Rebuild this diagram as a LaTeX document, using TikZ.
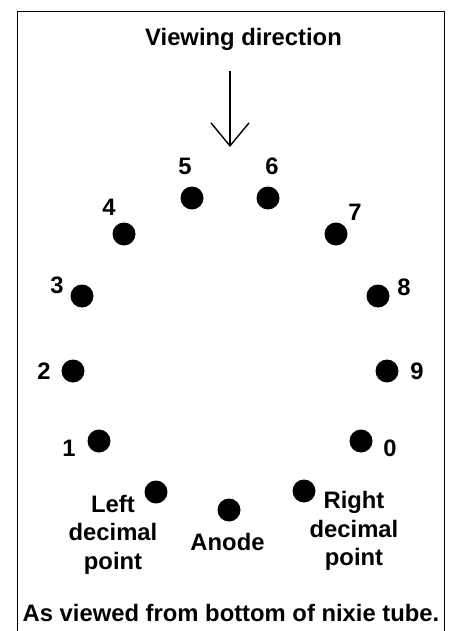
\documentclass[tikz,border=0pt]{standalone}
\usepackage{fontspec}
\setmainfont{Liberation Sans}
\usetikzlibrary{arrows.meta}
\tikzset{pin/.style={circle, fill=black, inner sep=0pt, minimum width=22pt, minimum height=23pt},
    lbl/.style={font=\fontsize{23.8}{28.5}\selectfont\bfseries, inner sep=0pt, align=center}}

\begin{document}
\begin{tikzpicture}[x=1pt, y=-1pt]
    \useasboundingbox (0,0) rectangle (450,631);
    \draw[thick] (17,11.5) -- (444.5,11.5) (17.5,11) -- (17.5,631) (444.5,11) -- (444.5,631);
    \node[lbl] (title) at (243.5,39) {Viewing direction};
    % arrow
    \coordinate (top) at (230,71);
    \coordinate (tip) at (230,147);
    \draw[line width=1.4pt, -{Straight Barb[length=23pt, width=38pt, line width=1.4pt]}] (top) -- (tip);
    % pins
    \foreach \name/\x/\y in {five/192/198, six/268/198, four/124/234, seven/336/234,
        three/82/296, eight/378/296, two/73/371, nine/387/371, one/99/441, zero/361/441,
        ldp/156/492, rdp/304/491, anode/229/510}
        \node[pin] (\name) at (\x,\y) {};
    % digits
    \foreach \txt/\x/\y in {5/185/166, 6/272/166, 4/109/207, 7/355/212, 3/57/285,
        8/404/287, 2/44/371, 9/417/371, 1/69/448, 0/390/448}
        \node[lbl] (n\txt) at (\x,\y) {\txt};
    \node[lbl] (ldptext) at (113,534.5) {Left\\decimal\\point};
    \node[lbl] (rdptext) at (354,531) {Right\\decimal\\point};
    \node[lbl] (anodetext) at (227.5,542) {Anode};
    \node[lbl] (caption) at (231,613) {As viewed from bottom of nixie tube.};
\end{tikzpicture}
\end{document}
